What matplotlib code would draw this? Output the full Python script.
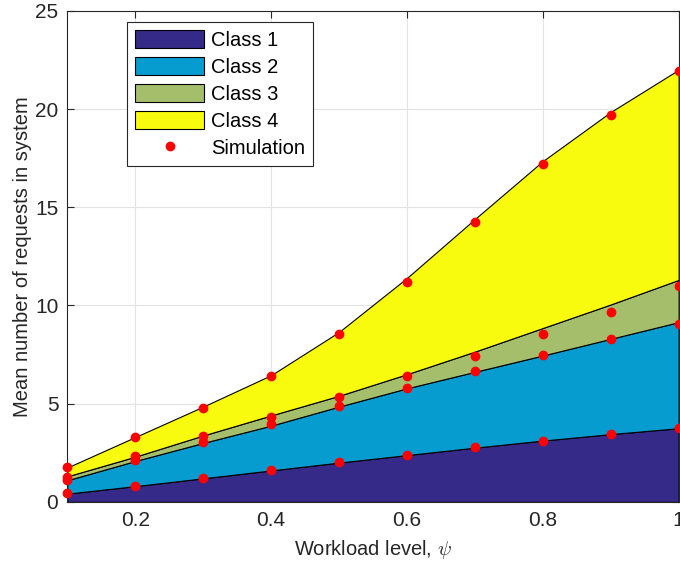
import numpy as np
import matplotlib
matplotlib.use('Agg')
import matplotlib.pyplot as plt

plt.rcParams['font.family'] = ['Liberation Sans', 'DejaVu Sans']
plt.rcParams['mathtext.fontset'] = 'cm'

# workload levels
psi = [0.1, 0.2, 0.3, 0.4, 0.5, 0.6, 0.7, 0.8, 0.9, 1.0]

# model, per class mean number of requests (stacked)
class1 = [0.42, 0.80, 1.20, 1.60, 2.00, 2.38, 2.76, 3.12, 3.45, 3.75]
class2 = [0.68, 1.28, 1.80, 2.28, 2.85, 3.40, 3.86, 4.33, 4.85, 5.40]
class3 = [0.20, 0.22, 0.38, 0.52, 0.55, 0.72, 1.03, 1.40, 1.75, 2.15]
class4 = [0.45, 1.00, 1.47, 2.05, 3.25, 4.90, 6.75, 8.50, 9.80, 10.70]

# simulation points (cumulative levels)
sim_c1 = [0.44, 0.81, 1.21, 1.61, 2.02, 2.41, 2.78, 3.12, 3.46, 3.78]
sim_c12 = [1.12, 2.14, 3.05, 3.95, 4.89, 5.79, 6.65, 7.47, 8.28, 9.05]
sim_c123 = [1.25, 2.35, 3.36, 4.34, 5.36, 6.40, 7.43, 8.54, 9.69, 11.0]
sim_tot = [1.75, 3.30, 4.80, 6.42, 8.55, 11.2, 14.27, 17.18, 19.72, 21.95]

colors = ['#352a87', '#079ccf', '#a5be6b', '#f9fb0e']
labels = ['Class 1', 'Class 2', 'Class 3', 'Class 4']

fig = plt.figure(figsize=(6.8, 5.69), dpi=100)
ax = fig.add_axes([0.099, 0.118, 0.899, 0.863])

ax.grid(True, color='#e3e3e3', linewidth=0.8, zorder=0)
ax.set_axisbelow(True)

stacks = ax.stackplot(psi, class1, class2, class3, class4, colors=colors,
                      labels=labels, edgecolor='black', linewidth=0.8, zorder=2)

sim_x = psi * 4
sim_y = sim_c1 + sim_c12 + sim_c123 + sim_tot
ax.plot(sim_x, sim_y, 'o', color='#ff0000', markersize=6, linestyle='none',
        label='Simulation', zorder=3, clip_on=False)

ax.set_xlim(0.1, 1.0)
ax.set_ylim(0, 25)
ax.set_xticks([0.2, 0.4, 0.6, 0.8, 1.0])
ax.set_xticklabels(['0.2', '0.4', '0.6', '0.8', '1'])
ax.set_yticks([0, 5, 10, 15, 20, 25])
ax.tick_params(direction='in', top=True, right=True, labelsize=15,
               length=5, width=0.8, colors='#262626', pad=6.5)
for s in ax.spines.values():
    s.set_color('#262626')
    s.set_linewidth(0.8)

ax.set_xlabel(r'Workload level, $\psi$', fontsize=14.5, color='#262626', labelpad=6)
ax.set_ylabel('Mean number of requests in system', fontsize=14.5, color='#262626', labelpad=2)

leg = ax.legend(loc='upper left', bbox_to_anchor=(0.098, 0.978), borderaxespad=0,
                fontsize=14.5, frameon=True, fancybox=False, edgecolor='#262626',
                framealpha=1, borderpad=0.4, labelspacing=0.36, handlelength=3.4,
                handleheight=1.0, handletextpad=0.35)
leg.get_frame().set_linewidth(0.8)

fig.savefig('out.png', dpi=100)
